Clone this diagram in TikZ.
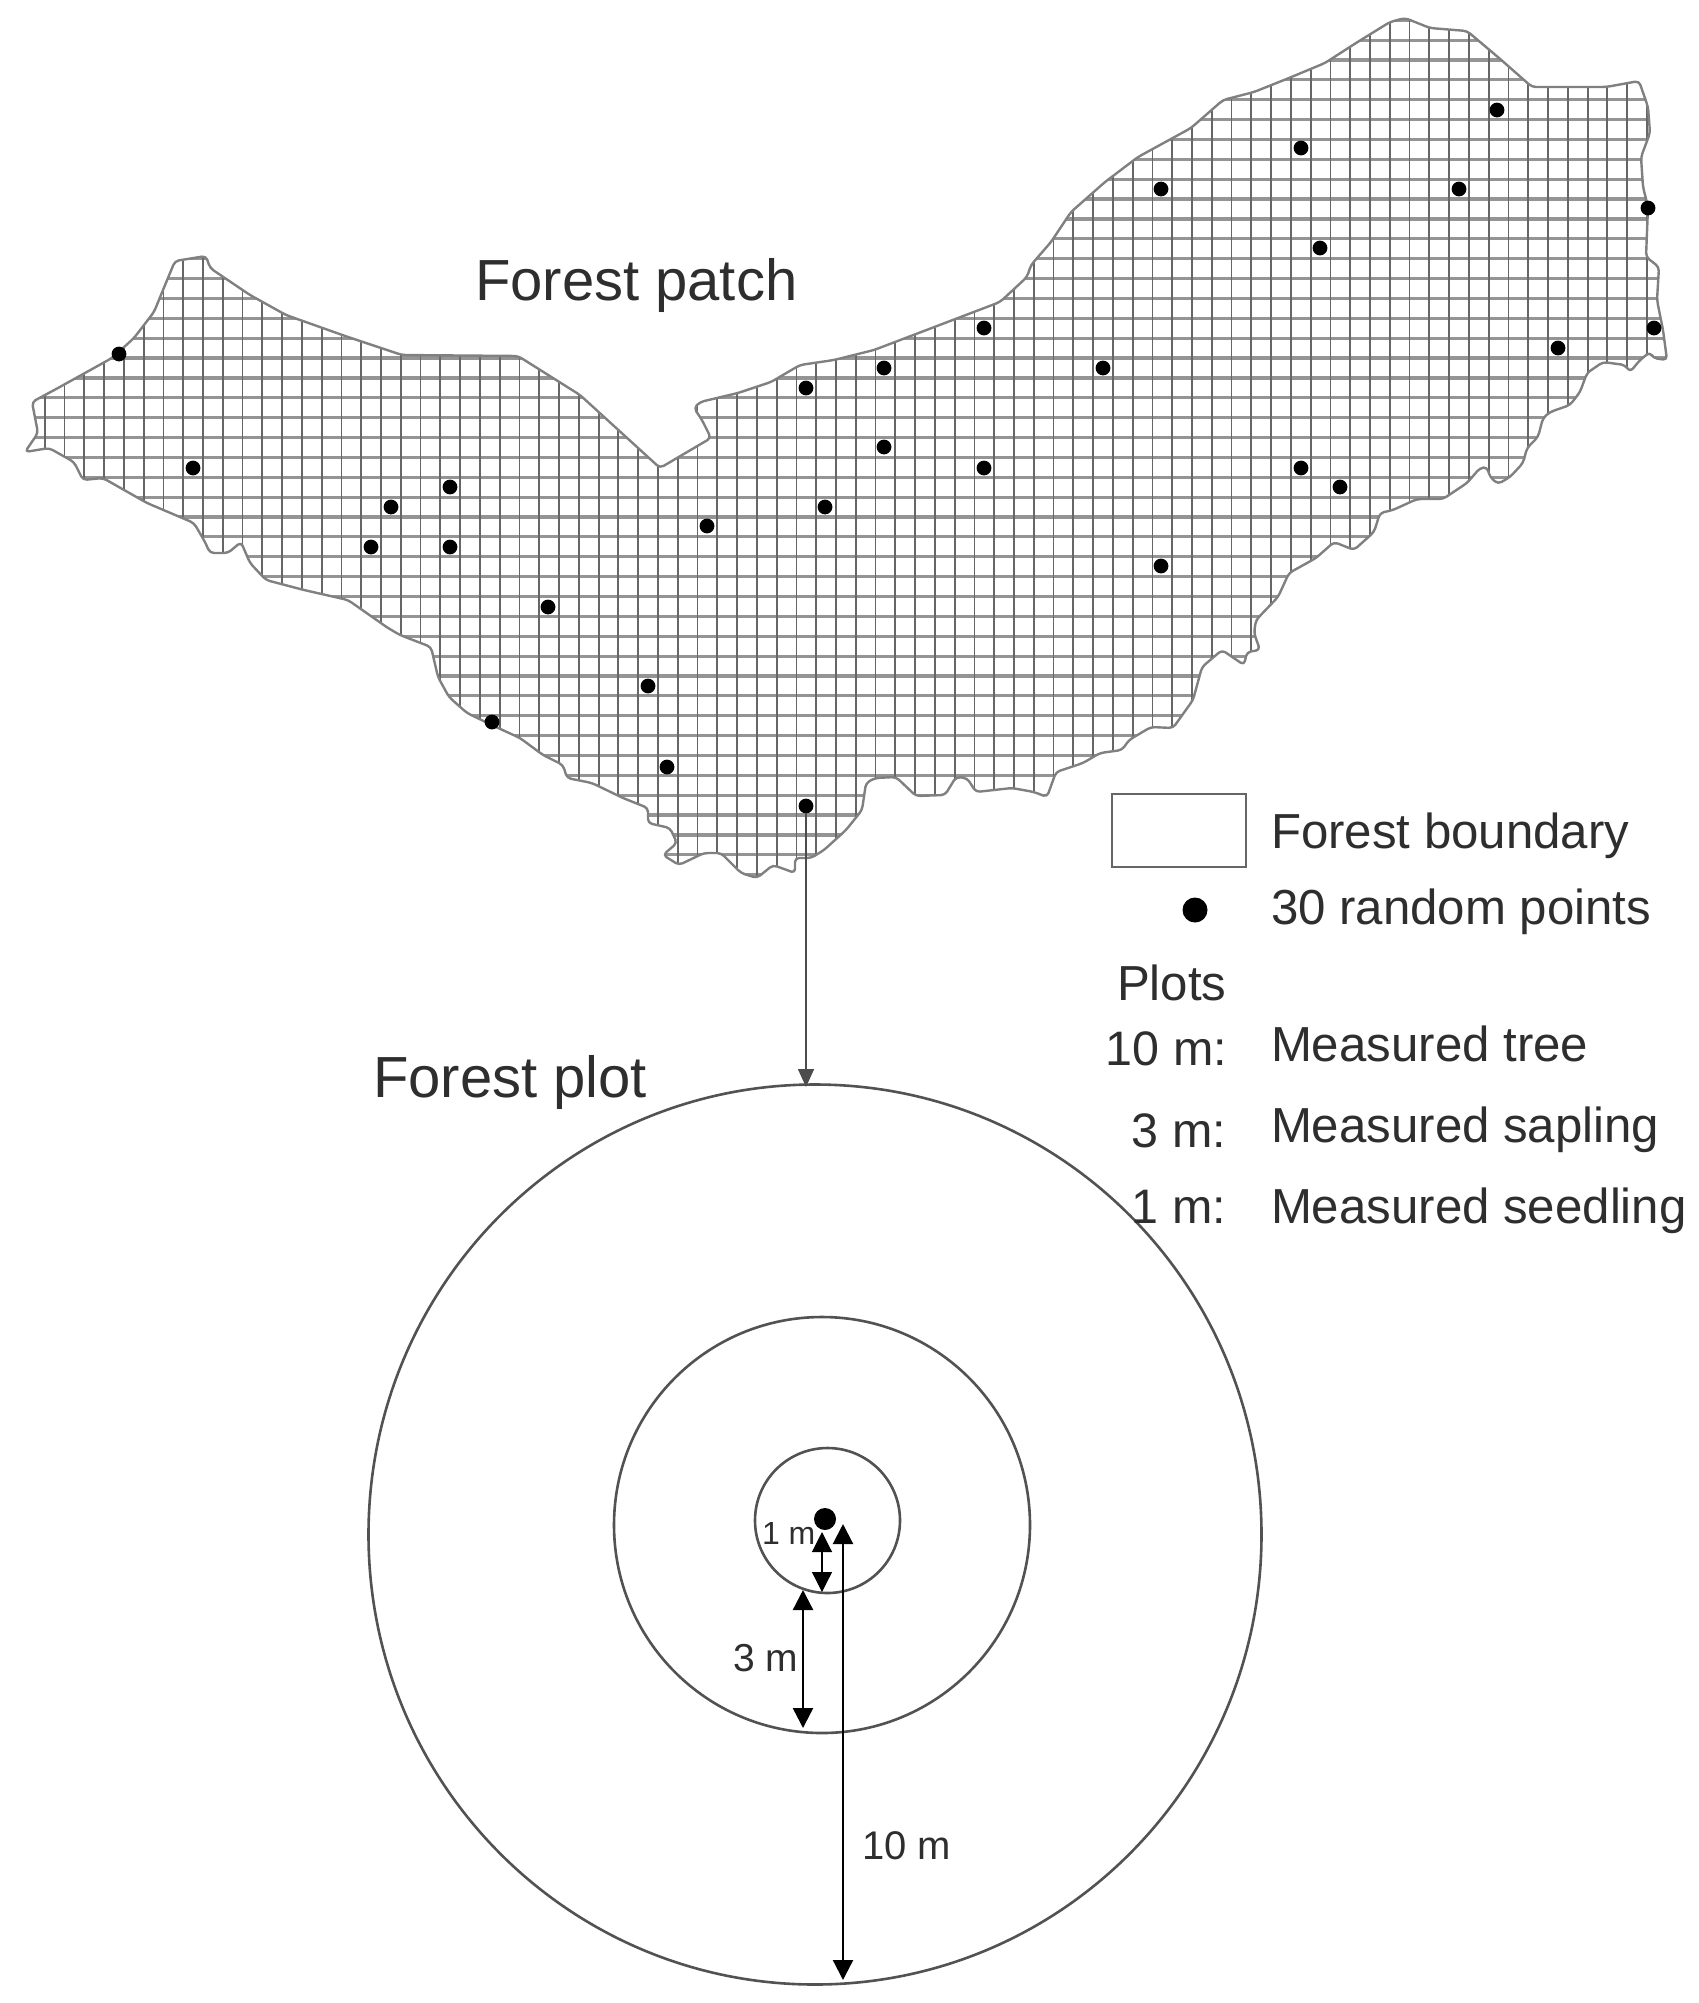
\documentclass[tikz,border=0pt]{standalone}
\usepackage{fontspec}
\setmainfont{Liberation Sans}
\usetikzlibrary{arrows.meta,shapes.geometric}
\tikzset{
  lbl/.style={inner sep=0pt,outer sep=0pt,text=black!82,anchor=base west},
  lblr/.style={inner sep=0pt,outer sep=0pt,text=black!82,anchor=base east},
  sized/.style={font=\fontsize{#1}{#1}\selectfont},
  gridh/.style={black!42,line width=1.6pt},
  gridv/.style={black!60,line width=0.9pt},
  border/.style={black!50,line width=1.2pt,line join=round},
  ringshape/.style={circle,draw=black!68,line width=1.3pt,inner sep=0pt,outer sep=0pt,minimum size=#1},
  pdot/.style={circle,fill=black,inner sep=0pt,outer sep=0pt,minimum size=7.4pt},
  dim/.style={black,line width=#1,{Triangle[length=10pt,width=10pt]}-{Triangle[length=10pt,width=10pt]}}
}
\def\patchoutline{(25,452) -- (38,433) -- (32,402) -- (58,388) -- (85,373) -- (112,358) -- (134,338) -- (154,312) -- (163,290) -- (175,261) -- (206,256) -- (210,268) -- (250,295) -- (286,315) -- (348,337) -- (402,355) -- (518,356) -- (580,395) -- (660,468) -- (711,438) -- (702,420) -- (694,408) -- (700,402) -- (738,393) -- (771,382) -- (800,365) -- (834,360) -- (874,350) -- (1000,302) -- (1027,277) -- (1031,265) -- (1051,242) -- (1071,212) -- (1105,182) -- (1138,157) -- (1191,128) -- (1223,100) -- (1254,92) -- (1289,78) -- (1325,63) -- (1356,43) -- (1390,22) -- (1405,18) -- (1430,28) -- (1467,31) -- (1499,58) -- (1532,87) -- (1606,87) -- (1639,81) -- (1648,107) -- (1650,133) -- (1641,157) -- (1643,187) -- (1648,207) -- (1646,257) -- (1659,267) -- (1657,300) -- (1663,330) -- (1667,360) -- (1653,358) -- (1650,352) -- (1640,360) -- (1630,372) -- (1625,365) -- (1603,362) -- (1587,373) -- (1580,392) -- (1570,405) -- (1550,412) -- (1543,418) -- (1538,437) -- (1527,448) -- (1523,463) -- (1510,477) -- (1498,484) -- (1490,477) -- (1487,467) -- (1480,468) -- (1467,483) -- (1443,499) -- (1417,499) -- (1393,510) -- (1380,513) -- (1374,532) -- (1354,550) -- (1334,542) -- (1316,558) -- (1289,573) -- (1278,597) -- (1256,620) -- (1254,633) -- (1260,650) -- (1247,652) -- (1244,665) -- (1222,650) -- (1202,667) -- (1193,700) -- (1173,728) -- (1151,727) -- (1129,740) -- (1122,750) -- (1100,753) -- (1083,763) -- (1056,772) -- (1047,797) -- (1034,792) -- (1012,788) -- (976,792) -- (967,778) -- (956,777) -- (945,795) -- (916,796) -- (896,777) -- (875,778) -- (866,783) -- (862,810) -- (846,830) -- (824,850) -- (811,858) -- (795,858) -- (795,873) -- (773,865) -- (757,878) -- (741,873) -- (721,853) -- (704,853) -- (679,865) -- (663,855) -- (677,843) -- (670,828) -- (648,823) -- (648,808) -- (623,798) -- (592,783) -- (567,778) -- (563,765) -- (543,755) -- (520,738) -- (496,727) -- (467,713) -- (449,697) -- (438,677) -- (431,647) -- (400,635) -- (388,628) -- (348,600) -- (304,590) -- (266,580) -- (250,563) -- (241,542) -- (228,553) -- (210,553) -- (205,542) -- (194,523) -- (147,503) -- (103,478) -- (83,480) -- (74,462) -- (49,448) -- cycle}
\begin{document}
\begin{tikzpicture}[x=0.5pt,y=-0.5pt]
\useasboundingbox (0,0) rectangle (1698,2003);
% grid clipped to the forest patch
\begin{scope}
  \clip[rounded corners=2pt] \patchoutline;
  \foreach \k in {-3,...,45} \draw[gridh] (0,{60+19.87*\k}) -- (1698,{60+19.87*\k});
  \foreach \k in {-11,...,75} \draw[gridv] ({203+19.78*\k},0) -- ({203+19.78*\k},950);
\end{scope}
\draw[border,rounded corners=2pt] \patchoutline;
% sample points
\foreach \n/\x/\y in {a/119/354,b/193/468,c/391/507,d/450/487,e/371/547,f/450/547,g/548/607,h/707/526,i/648/686,j/492/722,k/667/767,l/806/806,m/825/507,n/806/388,o/884/368,p/884/447,q/984/328,r/984/468,s/1103/368,t/1161/189,u/1161/566,v/1301/148,w/1301/468,x/1340/487,y/1320/248,z/1459/189,aa/1497/110,ab/1558/348,ac/1648/208,ad/1654/328}
  \node[pdot] (pt\n) at (\x,\y) {};
% plot circles
\node[ellipse,draw=black!68,line width=1.3pt,inner sep=0pt,outer sep=0pt,minimum width=446.5pt,minimum height=450pt] (plotten) at (815,1534.5) {};
\node[ringshape=208pt] (plotthree) at (822,1525) {};
\node[ringshape=72.5pt] (plotone) at (827.5,1520.5) {};
\node[circle,fill=black,inner sep=0pt,minimum size=11pt] (plotcentre) at (825,1519) {};
% connector from point to plot
\coordinate (plottop) at (806,1087);
\draw[black!70,line width=0.8pt,-{Triangle[length=9pt,width=8pt]}] (ptl) -- (plottop);
% dimension arrows
\coordinate (onetop) at (822,1532);
\coordinate (onebot) at (822,1592);
\coordinate (threetop) at (803,1590);
\coordinate (threebot) at (803,1728);
\coordinate (tentop) at (843,1524);
\coordinate (tenbot) at (843,1980);
\draw[dim=0.6pt] (onetop) -- (onebot);
\draw[dim=1.2pt] (threetop) -- (threebot);
\draw[dim=1.1pt] (tentop) -- (tenbot);
% titles
\node[lbl,sized=29pt] (tpatch) at (475,300) {Forest patch};
\node[lbl,sized=29pt] (tplot) at (373,1097) {Forest plot};
% dimension labels
\node[lbl,sized=16pt] (lone) at (762,1544) {1 m};
\node[lbl,sized=19.5pt] (lthree) at (733,1671) {3 m};
\node[lbl,sized=20pt] (lten) at (862,1859) {10 m};
% legend
\node[draw=black!60,line width=1.2pt,minimum width=67pt,minimum height=36.5pt,inner sep=0pt] (legbox) at (1179,830.5) {};
\node[circle,fill=black,inner sep=0pt,minimum size=12.5pt] (legdot) at (1195,910) {};
\node[lbl,sized=24.6pt] (lfb) at (1271,848) {Forest boundary};
\node[lbl,sized=24.6pt] (lrp) at (1271,924) {30 random points};
\node[lbl,sized=24.6pt] (lpl) at (1117,1000) {Plots};
\node[lblr,sized=24.2pt] (l10) at (1227,1065) {10 m:};
\node[lbl,sized=24.6pt] (lmt) at (1271,1061) {Measured tree};
\node[lblr,sized=24.2pt] (l3) at (1226,1147) {3 m:};
\node[lbl,sized=24.6pt] (lms) at (1271,1142) {Measured sapling};
\node[lblr,sized=24.2pt] (l1) at (1226,1223) {1 m:};
\node[lbl,sized=24.6pt] (lmd) at (1271,1223) {Measured seedling};
\end{tikzpicture}
\end{document}
